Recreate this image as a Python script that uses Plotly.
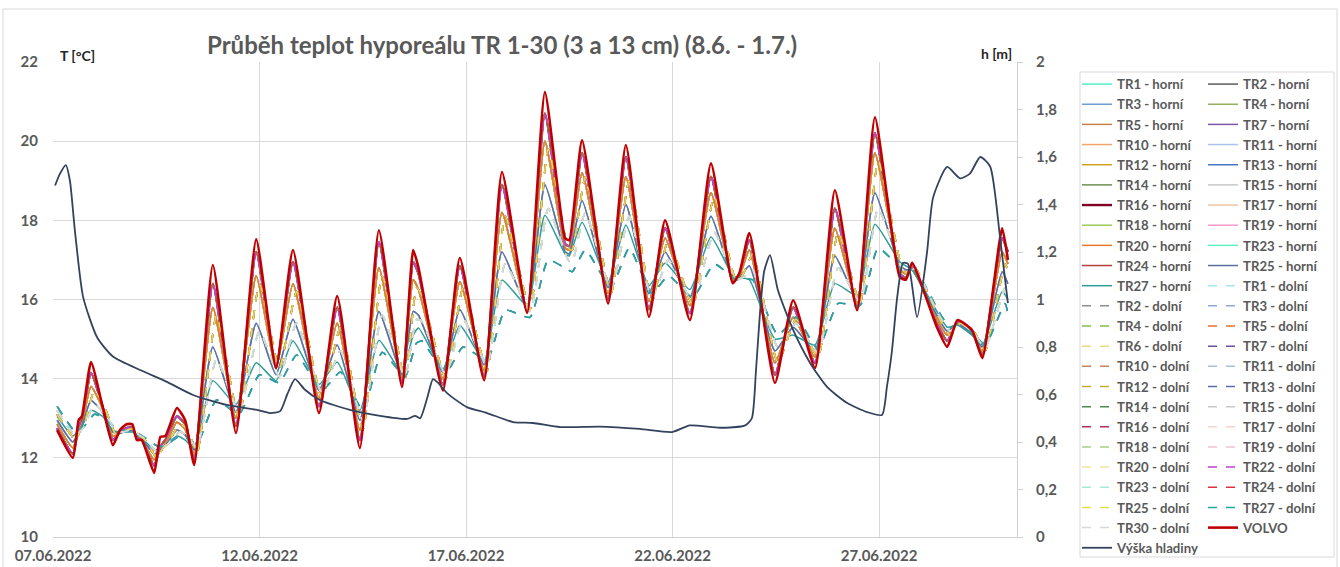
import plotly.graph_objects as go
import pandas as pd

# ---------------- data ----------------
# time in days after 07.06.2022 00:00 (horní sensors / VOLVO)
t_h = [0.10, 0.48, 0.62, 0.70, 0.92, 1.20, 1.45, 1.62, 1.78, 1.92,
       2.03, 2.15, 2.45, 2.60, 2.72, 3.00, 3.20, 3.42, 3.87, 4.43,
       4.92, 5.40, 5.81, 6.44, 6.88, 7.43, 7.89, 8.45, 8.72, 8.85,
       9.44, 9.85, 10.44, 10.87, 11.48, 11.91, 12.40, 12.50, 12.81, 13.44,
       13.87, 14.43, 14.82, 15.42, 15.93, 16.46, 16.62, 16.86, 17.48, 17.92,
       18.45, 18.93, 19.47, 19.90, 20.50, 20.65, 20.80, 21.40, 21.65, 21.90,
       22.25, 22.50, 22.98, 23.12]

volvo = [12.70, 12.00, 12.95, 13.05, 14.42, 13.30, 12.32, 12.70, 12.85, 12.85,
         12.45, 12.45, 11.62, 12.53, 12.55, 13.26, 12.95, 11.82, 16.87, 12.63,
         17.52, 14.27, 17.25, 13.13, 16.09, 12.25, 17.75, 13.79, 17.25, 16.80,
         13.70, 17.05, 13.96, 19.22, 15.66, 21.24, 17.55, 17.50, 20.02, 15.90,
         19.90, 15.56, 18.00, 15.48, 19.44, 16.41, 16.67, 17.68, 13.89, 15.98,
         14.27, 18.76, 15.73, 20.60, 16.57, 16.50, 16.93, 15.30, 14.80, 15.48,
         15.23, 14.52, 17.80, 17.00]

h_hi = [12.75, 12.10, 12.80, 12.95, 14.15, 13.30, 12.45, 12.65, 12.75, 12.78,
        12.50, 12.45, 11.80, 12.30, 12.45, 13.05, 12.85, 11.95, 16.40, 12.80,
        17.20, 14.30, 16.95, 13.30, 15.80, 12.45, 17.45, 13.90, 16.95, 16.65,
        13.85, 16.85, 14.05, 18.90, 15.70, 20.70, 17.40, 17.35, 19.70, 16.00,
        19.60, 15.75, 17.80, 15.65, 19.10, 16.45, 16.65, 17.50, 14.10, 15.80,
        14.40, 18.30, 15.80, 20.20, 16.65, 16.55, 16.85, 15.40, 14.95, 15.45,
        15.20, 14.60, 17.55, 17.20]

h_mid = [12.85, 12.25, 12.70, 12.85, 13.80, 13.25, 12.55, 12.62, 12.70, 12.72,
         12.55, 12.45, 11.95, 12.20, 12.35, 12.90, 12.72, 12.10, 15.80, 13.00,
         16.60, 14.25, 16.40, 13.50, 15.40, 12.70, 16.80, 14.00, 16.50, 16.25,
         14.00, 16.45, 14.20, 18.20, 15.75, 20.00, 17.30, 17.25, 19.20, 16.15,
         19.10, 15.95, 17.55, 15.85, 18.70, 16.50, 16.60, 17.25, 14.40, 15.55,
         14.55, 17.80, 15.90, 19.70, 16.75, 16.65, 16.80, 15.50, 15.10, 15.40,
         15.15, 14.70, 17.20, 16.90]

h_low = [12.95, 12.40, 12.65, 12.80, 13.45, 13.15, 12.65, 12.62, 12.68, 12.68,
         12.55, 12.48, 12.10, 12.20, 12.30, 12.70, 12.58, 12.20, 14.80, 13.15,
         15.40, 14.10, 15.50, 13.70, 14.85, 12.95, 15.70, 14.10, 15.70, 15.60,
         14.15, 15.75, 14.35, 17.20, 15.80, 18.90, 17.20, 17.15, 18.50, 16.30,
         18.40, 16.15, 17.20, 16.05, 18.10, 16.55, 16.55, 16.85, 14.70, 15.30,
         14.70, 17.10, 16.00, 18.70, 16.85, 16.75, 16.75, 15.60, 15.20, 15.38,
         15.12, 14.80, 16.70, 16.40]

tr27_h = [13.05, 12.55, 12.70, 12.80, 13.20, 13.05, 12.70, 12.65, 12.65, 12.65,
          12.58, 12.50, 12.20, 12.25, 12.30, 12.55, 12.45, 12.25, 13.95, 13.35,
          14.40, 13.95, 14.95, 13.85, 14.42, 13.20, 14.97, 14.15, 15.10, 15.28,
          14.25, 15.35, 14.45, 16.49, 15.85, 18.13, 17.15, 17.10, 17.95, 16.45,
          17.88, 16.35, 16.92, 16.25, 17.58, 16.60, 16.55, 16.50, 15.00, 15.10,
          14.85, 16.40, 16.10, 17.90, 16.95, 16.85, 16.75, 15.70, 15.30, 15.35,
          15.10, 14.85, 16.20, 16.00]

# time in days after 07.06.2022 00:00 (dolní sensors, slightly delayed)
t_d = [0.10, 0.55, 0.68, 0.76, 1.00, 1.26, 1.52, 1.68, 1.84, 1.98,
       2.09, 2.21, 2.52, 2.66, 2.78, 3.07, 3.27, 3.49, 3.96, 4.50,
       5.00, 5.48, 5.90, 6.51, 6.96, 7.50, 7.97, 8.52, 8.80, 8.93,
       9.51, 9.93, 10.51, 10.95, 11.55, 11.99, 12.47, 12.57, 12.89, 13.51,
       13.95, 14.50, 14.90, 15.49, 16.01, 16.53, 16.69, 16.94, 17.55, 17.99,
       18.52, 19.01, 19.54, 19.98, 20.57, 20.72, 20.87, 21.47, 21.72, 21.97,
       22.32, 22.57, 23.05, 23.13]

d_hi = [13.10, 12.45, 12.75, 12.85, 13.70, 13.25, 12.60, 12.65, 12.72, 12.72,
        12.55, 12.48, 12.00, 12.25, 12.38, 12.85, 12.70, 12.12, 15.60, 13.00,
        16.40, 14.25, 16.20, 13.50, 15.30, 12.70, 16.60, 14.00, 16.30, 16.10,
        14.00, 16.30, 14.20, 18.10, 15.75, 19.80, 17.30, 17.25, 19.10, 16.15,
        19.00, 15.95, 17.50, 15.85, 18.60, 16.50, 16.60, 17.15, 14.40, 15.50,
        14.55, 17.70, 15.90, 19.50, 16.75, 16.65, 16.80, 15.50, 15.10, 15.40,
        15.15, 14.70, 16.90, 16.70]

d_mid = [13.20, 12.55, 12.70, 12.80, 13.35, 13.10, 12.70, 12.65, 12.70, 12.68,
         12.58, 12.50, 12.15, 12.25, 12.35, 12.65, 12.55, 12.25, 14.50, 13.15,
         15.20, 14.05, 15.40, 13.65, 14.70, 12.95, 15.60, 14.05, 15.50, 15.45,
         14.10, 15.50, 14.35, 16.90, 15.70, 18.30, 17.00, 16.95, 18.20, 16.25,
         18.10, 16.05, 17.00, 15.95, 17.70, 16.50, 16.55, 16.75, 14.80, 15.40,
         14.65, 16.80, 15.95, 18.30, 16.75, 16.70, 16.78, 15.58, 15.20, 15.40,
         15.12, 14.78, 16.30, 16.10]

d_low = [13.30, 12.65, 12.75, 12.80, 13.10, 13.00, 12.75, 12.70, 12.68, 12.66,
         12.60, 12.52, 12.30, 12.30, 12.35, 12.55, 12.48, 12.35, 13.46, 13.10,
         14.10, 13.90, 14.60, 13.70, 14.17, 13.20, 14.67, 14.05, 14.90, 14.95,
         14.15, 14.80, 14.47, 15.73, 15.55, 17.00, 16.75, 16.70, 17.25, 16.30,
         17.30, 16.15, 16.60, 16.05, 16.90, 16.50, 16.50, 16.50, 15.10, 15.55,
         14.75, 15.90, 15.85, 17.30, 16.75, 16.75, 16.78, 15.65, 15.30, 15.40,
         15.10, 14.85, 15.90, 15.60]

# water level (Výška hladiny), days after 07.06.2022 00:00 and metres
t_lvl = [0.05, 0.17, 0.31, 0.41, 0.53, 0.73, 1.07, 1.45, 2.11, 2.76,
         3.39, 4.21, 4.94, 5.25, 5.50, 5.67, 5.86, 6.10, 6.46, 7.19,
         7.92, 8.57, 8.77, 8.89, 9.06, 9.20, 9.32, 9.54, 10.02, 10.51,
         11.14, 11.62, 12.28, 13.24, 14.21, 14.99, 15.42, 16.15, 16.76, 16.92,
         17.02, 17.12, 17.22, 17.36, 17.55, 17.92, 18.33, 18.74, 19.23, 19.71,
         20.07, 20.19, 20.31, 20.44, 20.58, 20.70, 20.92, 21.16, 21.31, 21.65,
         21.96, 22.20, 22.45, 22.69, 22.93, 23.12]
lvl = [1.48, 1.53, 1.566, 1.50, 1.29, 1.01, 0.84, 0.76, 0.703, 0.653,
       0.598, 0.556, 0.535, 0.522, 0.530, 0.60, 0.665, 0.62, 0.577, 0.535,
       0.51, 0.497, 0.51, 0.50, 0.585, 0.665, 0.65, 0.606, 0.547, 0.522,
       0.484, 0.48, 0.463, 0.465, 0.455, 0.442, 0.47, 0.46, 0.47, 0.50,
       0.70, 0.95, 1.12, 1.187, 1.04, 0.872, 0.733, 0.632, 0.564, 0.526,
       0.514, 0.632, 0.78, 1.01, 1.154, 1.15, 0.926, 1.196, 1.43, 1.558,
       1.51, 1.53, 1.60, 1.56, 1.26, 0.985]

# series (Excel order) and which measured profile each one follows
series_names = [
    "TR1 - horní", "TR2 - horní", "TR3 - horní", "TR4 - horní", "TR5 - horní",
    "TR7 - horní", "TR10 - horní", "TR11 - horní", "TR12 - horní", "TR13 - horní",
    "TR14 - horní", "TR15 - horní", "TR16 - horní", "TR17 - horní", "TR18 - horní",
    "TR19 - horní", "TR20 - horní", "TR23 - horní", "TR24 - horní", "TR25 - horní",
    "TR27 - horní",
    "TR1 - dolní", "TR2 - dolní", "TR3 - dolní", "TR4 - dolní", "TR5 - dolní",
    "TR6 - dolní", "TR7 - dolní", "TR10 - dolní", "TR11 - dolní", "TR12 - dolní",
    "TR13 - dolní", "TR14 - dolní", "TR15 - dolní", "TR16 - dolní", "TR17 - dolní",
    "TR18 - dolní", "TR19 - dolní", "TR20 - dolní", "TR22 - dolní", "TR23 - dolní",
    "TR24 - dolní", "TR25 - dolní", "TR27 - dolní", "TR30 - dolní",
    "VOLVO",
]
series_profile = [
    "h_hi", "h_hi", "h_low", "h_mid", "h_mid",
    "h_hi", "h_mid", "h_low", "h_mid", "h_hi",
    "h_mid", "h_mid", "h_hi", "h_mid", "h_mid",
    "h_hi", "h_mid", "h_hi", "h_hi", "h_low",
    "tr27_h",
    "d_mid", "d_hi", "d_low", "d_hi", "d_hi",
    "d_hi", "d_mid", "d_hi", "d_low", "d_hi",
    "d_low", "d_mid", "d_mid", "d_hi", "d_mid",
    "d_hi", "d_hi", "d_mid", "h_hi", "d_mid",
    "d_hi", "d_hi", "d_low", "d_mid",
    "volvo",
]

# styles
series_colors = [
    "#55EEC6", "#5A5A5A", "#6E9FCF", "#93B060", "#C6804A",
    "#7D56A8", "#F4A46A", "#A9C4EB", "#D0A020", "#4472C4",
    "#6F9050", "#C8C8C8", "#800025", "#EEC6A6", "#9ACD5A",
    "#F59AC8", "#E8782C", "#62F0C0", "#B5413B", "#5B6E9E",
    "#2E9C98",
    "#A8E4EC", "#8C8C8C", "#8FAAD0", "#80C050", "#E8702A",
    "#EADB80", "#7050A0", "#C08860", "#A8C0DC", "#BDB22E",
    "#5C6CA8", "#4E8A4E", "#C8C8C8", "#B0305A", "#F0D8D0",
    "#A8D088", "#F5C0D8", "#F0E6A0", "#C040D0", "#A8E8D8",
    "#E03040", "#D8E450", "#20A8A0", "#D8D8D8",
    "#C00000",
]
level_color = "#34425E"

profiles = {
    "volvo": (t_h, volvo), "h_hi": (t_h, h_hi), "h_mid": (t_h, h_mid),
    "h_low": (t_h, h_low), "tr27_h": (t_h, tr27_h),
    "d_hi": (t_d, d_hi), "d_mid": (t_d, d_mid), "d_low": (t_d, d_low),
}

base = pd.Timestamp("2022-06-07 00:00")


def to_dates(days):
    return [base + pd.Timedelta(days=d) for d in days]


fig = go.Figure()
grey = "#595959"
FONT = "Lato"

for i, (name, prof, col) in enumerate(zip(series_names, series_profile, series_colors)):
    tt, vv = profiles[prof]
    dolni = "dolní" in name
    width = 1.5
    if name == "VOLVO":
        width = 2.6
    elif name == "TR16 - horní":
        width = 2.4
    fig.add_trace(go.Scatter(
        x=to_dates(tt), y=vv, name=name, mode="lines",
        line=dict(color=col, width=width, dash="dash" if dolni else "solid",
                  shape="spline", smoothing=0.5),
        legend="legend" if i % 2 == 0 else "legend2",
        yaxis="y",
    ))

fig.add_trace(go.Scatter(
    x=to_dates(t_lvl), y=lvl, name="Výška hladiny", mode="lines",
    line=dict(color=level_color, width=1.8, shape="spline", smoothing=0.6),
    legend="legend", yaxis="y2",
))

# plot area in pixels: x 53..1017, y 62..537 in a 1340x567 figure
L, R, T, B = 53, 1017, 62, 537
W, H = R - L, B - T


def px(xp):
    return (xp - L) / W


def py(yp):
    return (B - yp) / H


legend_font = dict(family=FONT, size=13.2, color=grey, weight="bold")

fig.update_layout(
    width=1340, height=567,
    margin=dict(l=L, r=1340 - R, t=T, b=567 - B, autoexpand=False),
    paper_bgcolor="white", plot_bgcolor="white",
    separators=", ",
    showlegend=True,
    font=dict(family=FONT, color=grey),
    xaxis=dict(
        type="date",
        range=[base, base + pd.Timedelta(days=23.34)],
        tick0=base, dtick=5 * 86400000, tickformat="%d.%m.%Y",
        showgrid=True, gridcolor="#D9D9D9", gridwidth=1,
        showline=True, linecolor="#D0D0D0", linewidth=1,
        ticks="", ticklabelstandoff=5,
        tickfont=dict(family=FONT, size=15, color=grey, weight="bold"),
        zeroline=False,
    ),
    yaxis=dict(
        range=[10, 22], dtick=2, tick0=10,
        showgrid=True, gridcolor="#D9D9D9", gridwidth=1,
        showline=False, zeroline=False, ticks="",
        ticklabelstandoff=14,
        tickfont=dict(family=FONT, size=15, color=grey, weight="bold"),
    ),
    yaxis2=dict(
        range=[0, 2], dtick=0.2, tick0=0, overlaying="y", side="right",
        showgrid=False, zeroline=False,
        showline=True, linecolor="#D0D0D0", linewidth=1,
        ticks="outside", ticklen=5, tickcolor="#D0D0D0",
        ticklabelstandoff=10,
        tickfont=dict(family=FONT, size=15, color=grey, weight="bold"),
    ),
    legend=dict(
        x=px(1077), y=py(69), xanchor="left", yanchor="top",
        bgcolor="rgba(0,0,0,0)", borderwidth=0, maxheight=600,
        font=legend_font, itemwidth=30, tracegroupgap=0,
    ),
    legend2=dict(
        x=px(1203), y=py(69), xanchor="left", yanchor="top",
        bgcolor="rgba(0,0,0,0)", borderwidth=0, maxheight=600,
        font=legend_font, itemwidth=30, tracegroupgap=0,
    ),
    shapes=[
        # chart area border
        dict(type="rect", xref="paper", yref="paper",
             x0=px(3), x1=px(1337), y0=py(575), y1=py(9),
             line=dict(color="#D9D9D9", width=1), fillcolor="rgba(0,0,0,0)"),
        # legend border
        dict(type="rect", xref="paper", yref="paper",
             x0=px(1080), x1=px(1334), y0=py(557), y1=py(72),
             line=dict(color="#D9D9D9", width=1), fillcolor="rgba(0,0,0,0)"),
    ],
    annotations=[
        dict(text="Průběh teplot hyporeálu TR 1-30 (3 a 13 cm) (8.6. - 1.7.)",
             xref="paper", yref="paper", x=px(502), y=py(45),
             xanchor="center", yanchor="middle", showarrow=False,
             font=dict(family=FONT, size=24, color=grey, weight="bold")),
        dict(text="T [°C]", xref="paper", yref="paper", x=px(58), y=py(55),
             xanchor="left", yanchor="middle", showarrow=False,
             font=dict(family=FONT, size=14, color="#262626", weight="bold")),
        dict(text="h [m]", xref="paper", yref="paper", x=px(1014), y=py(53),
             xanchor="right", yanchor="middle", showarrow=False,
             font=dict(family=FONT, size=14, color="#262626", weight="bold")),
    ],
)

fig.write_html(
    "out.html",
    config={"displayModeBar": False},
    post_script="document.body.style.margin='0px';document.body.style.overflow='hidden';",
)
